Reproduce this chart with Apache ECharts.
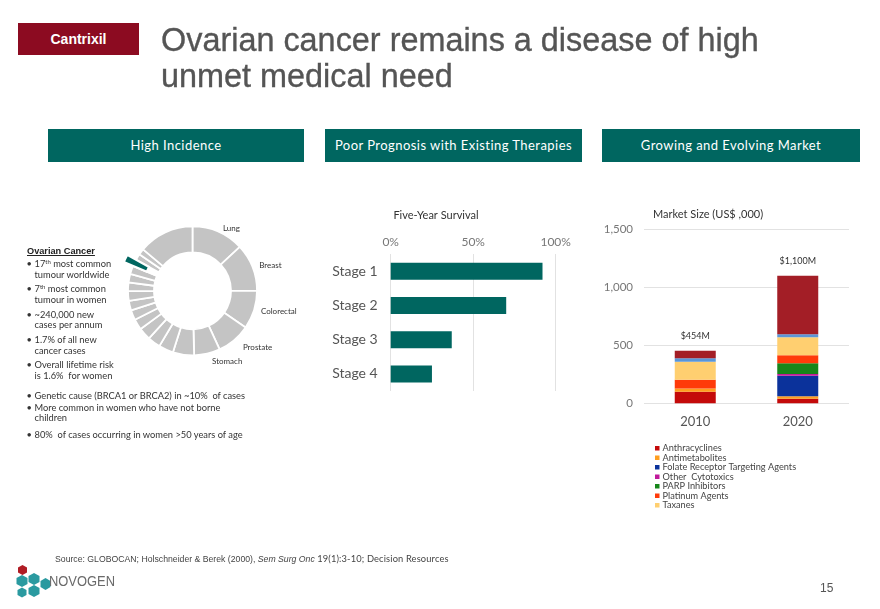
<!DOCTYPE html>
<html><head><meta charset="utf-8">
<script src="https://cdn.jsdelivr.net/npm/echarts@6/dist/echarts.min.js"></script>
<style>
html,body{margin:0;padding:0;width:880px;height:609px;overflow:hidden;background:#fff;}
#chart{position:absolute;left:0;top:0;width:880px;height:609px;}
.abs{position:absolute;white-space:nowrap;}
.tag{left:18px;top:23px;width:121px;height:32px;background:#8c0b21;color:#fff;font:bold 14px "Liberation Sans",Arial,sans-serif;text-align:center;line-height:32px;}
.title{left:161px;top:21.5px;font:32.4px/36.7px "Liberation Sans",Arial,sans-serif;color:#555;-webkit-text-stroke:0.35px #555;}
.hbox{top:129px;height:33px;background:#006660;color:#fff;font:13px/33px Lato,sans-serif;text-align:center;letter-spacing:0.45px;}
.body{font:9.3px/10.7px Lato,sans-serif;color:#333;}
.bul{position:absolute;left:26.5px;white-space:nowrap;}
.bul span.b{display:inline-block;width:8px;}
.bul .ind{padding-left:8px;}
sup{font-size:6px;line-height:0;vertical-align:3px;}
.oc{left:27px;top:245.5px;font:bold 9.2px "Liberation Sans",Arial,sans-serif;color:#222;text-decoration:underline;}
.src{left:55px;top:553px;font:8.7px "Liberation Sans",Arial,sans-serif;color:#444;}
.src .l{font:9.3px Lato,sans-serif;letter-spacing:0.15px;}
.pg{left:820px;top:581px;font:12px "Liberation Sans",Arial,sans-serif;color:#555;}
.logo{left:49px;top:572px;font:15px "Liberation Sans",Arial,sans-serif;color:#6a6a6a;transform:scaleX(0.86);transform-origin:0 0;}
</style></head><body>
<div id="chart"></div>
<div class="abs tag">Cantrixil</div>
<div class="abs title">Ovarian cancer remains a disease of high<br>unmet medical need</div>
<div class="abs hbox" style="left:48px;width:256px;">High Incidence</div>
<div class="abs hbox" style="left:325px;width:257px;">Poor Prognosis with Existing Therapies</div>
<div class="abs hbox" style="left:602px;width:258px;">Growing and Evolving Market</div>

<div class="abs oc">Ovarian Cancer</div>
<div class="body">
<div class="bul" style="top:259px"><span class="b">•</span>17<sup>th</sup> most common<br><span class="ind">tumour worldwide</span></div>
<div class="bul" style="top:284px"><span class="b">•</span>7<sup>th</sup> most common<br><span class="ind">tumour in women</span></div>
<div class="bul" style="top:309.7px"><span class="b">•</span>~240,000 new<br><span class="ind">cases per annum</span></div>
<div class="bul" style="top:335px"><span class="b">•</span>1.7% of all new<br><span class="ind">cancer cases</span></div>
<div class="bul" style="top:360.4px"><span class="b">•</span>Overall lifetime risk<br><span class="ind">is 1.6% &nbsp;for women</span></div>
<div class="bul" style="top:390.6px"><span class="b">•</span>Genetic cause (BRCA1 or BRCA2) in ~10% &nbsp;of cases</div>
<div class="bul" style="top:402.6px"><span class="b">•</span>More common in women who have not borne<br><span class="ind">children</span></div>
<div class="bul" style="top:430px"><span class="b">•</span>80% &nbsp;of cases occurring in women &gt;50 years of age</div>
</div>

<div class="abs src">Source: GLOBOCAN; Holschneider &amp; Berek (2000), <i>Sem Surg Onc</i> <span class="l">19(1):3-10; Decision Resources</span></div>
<svg class="abs" style="left:0;top:560px" width="60" height="45">
  <polygon points="22.5,5 27,7.5 27,12.5 22.5,15 18,12.5 18,7.5" fill="#b01c24"/>
  <polygon points="22,15 27.5,18 27.5,24 22,27 16.5,24 16.5,18" fill="#2a9aa0"/>
  <polygon points="34,13 39.5,16 39.5,22 34,25 28.5,22 28.5,16" fill="#2a9aa0"/>
  <polygon points="45.5,18 50.5,21 50.5,27 45.5,30 40.5,27 40.5,21" fill="#2a9aa0"/>
  <polygon points="34,25 39.5,28 39.5,34 34,37 28.5,34 28.5,28" fill="#2a9aa0"/>
  <polygon points="22,27.5 26.5,30 26.5,35 22,37.5 17.5,35 17.5,30" fill="#2a9aa0"/>
</svg>
<div class="abs logo">NOVOGEN</div>
<div class="abs pg">15</div>

<script>
// ---------- Data ----------
const cancerSites = ['Lung','Breast','Colorectal','Prostate','Stomach','Liver','Cervix uteri','Oesophagus','Bladder','Non-Hodgkin lymphoma','Leukaemia','Pancreas','Kidney','Corpus uteri','Lip, oral cavity','Thyroid','Ovary','Melanoma','Gallbladder','Other'];
const incidencePct = [13.1,11.9,9.6,8.5,6.5,5.3,3.7,3.2,3.1,2.7,2.5,2.4,2.4,2.2,2.1,2.1,1.7,1.6,1.5,13.9];
const labelledSites = ['Lung','Breast','Colorectal','Prostate','Stomach'];
const highlightSite = 'Ovary';

const stages = ['Stage 1','Stage 2','Stage 3','Stage 4'];
const fiveYearSurvival = [92,70,37,25];

const years = ['2010','2020'];
const anthracyclines = [100,40];
const antimetabolites = [28,20];
const folateReceptor = [0,178];
const otherCytotoxics = [0,15];
const parpInhibitors = [0,92];
const platinumAgents = [75,70];
const taxanes = [155,155];
const unlistedBlue = [30,25];
const unlistedMaroon = [66,505];
const totalLabels = ['$454M','$1,100M'];
const legendNames = ['Anthracyclines','Antimetabolites','Folate Receptor Targeting Agents','Other  Cytotoxics','PARP Inhibitors','Platinum Agents','Taxanes'];

// ---------- Build ----------
const FONT = 'Lato, sans-serif';
const TEAL = '#006660';

const ringData = cancerSites.map((n,i)=>{
  const show = labelledSites.includes(n);
  const isHi = n===highlightSite;
  return {
    name:n, value:incidencePct[i],
    itemStyle:{color: isHi ? '#ffffff' : '#c4c4c4'},
    label:{show:show},
    labelLine:{show:false, length: n==='Prostate'?9:(n==='Stomach'?8:4), length2:0}
  };
});
const hiData = cancerSites.map((n,i)=>({
  name:n, value:incidencePct[i],
  itemStyle: n===highlightSite ? {color:TEAL, borderColor:'#fff', borderWidth:2.2} : {color:'rgba(0,0,0,0)', borderWidth:0}
}));

const stackSeries = [
  [legendNames[0], anthracyclines, '#c40a0a'],
  [legendNames[1], antimetabolites, '#ff9e1f'],
  [legendNames[2], folateReceptor, '#0b329b'],
  [legendNames[3], otherCytotoxics, '#c0199a'],
  [legendNames[4], parpInhibitors, '#16861a'],
  [legendNames[5], platinumAgents, '#ff3a0a'],
  [legendNames[6], taxanes, '#ffcf70'],
  ['Unlisted (blue)', unlistedBlue, '#5a96d8'],
  ['Unlisted (maroon)', unlistedMaroon, '#a31e26']
].map(([name,data,color],k,arr)=>({
  name, type:'bar', stack:'mkt', xAxisIndex:1, yAxisIndex:1, barWidth:41,
  data, itemStyle:{color}, emphasis:{disabled:true},
  label: k===arr.length-1 ? {show:true, position:'top', distance:10, fontFamily:FONT, fontSize:9, color:'#333',
    formatter:p=>totalLabels[p.dataIndex]} : {show:false}
}));

const chart = echarts.init(document.getElementById('chart'), null, {renderer:'canvas'});
chart.setOption({
  animation:false,
  title:[
    {text:'Five-Year Survival', left:431, top:205, textAlign:'center', textStyle:{fontFamily:FONT,fontSize:11,fontWeight:'normal',color:'#333'}},
    {text:'Market Size (US$ ,000)', left:648, top:204, textStyle:{fontFamily:FONT,fontSize:11,fontWeight:'normal',color:'#333'}}
  ],
  legend:{
    data:legendNames,
    orient:'vertical', left:655, top:443.5, padding:0, itemWidth:4.5, itemHeight:4.5, itemGap:0, icon:'rect',
    textStyle:{fontFamily:FONT,fontSize:9.2,color:'#444',lineHeight:9.5, padding:[0,0,0,-2]}, selectedMode:false
  },
  grid:[
    {left:390.7, top:254, width:165, height:137},
    {left:644, right:31, top:229.3, height:174}
  ],
  xAxis:[
    {type:'value', gridIndex:0, position:'top', min:0, max:100, interval:50,
     axisLabel:{formatter:'{value}%', fontFamily:FONT, fontSize:12, color:'#777', margin:6},
     axisLine:{show:false}, axisTick:{show:false}, splitLine:{lineStyle:{color:'#e2e2e2'}}},
    {type:'category', gridIndex:1, data:years,
     axisLabel:{fontFamily:FONT, fontSize:13, color:'#555', margin:12},
     axisLine:{show:false}, axisTick:{show:false}}
  ],
  yAxis:[
    {type:'category', gridIndex:0, data:stages, inverse:true,
     axisLabel:{fontFamily:FONT, fontSize:14, color:'#555', margin:13},
     axisLine:{show:false}, axisTick:{show:false}},
    {type:'value', gridIndex:1, min:0, max:1500, interval:500,
     axisLabel:{fontFamily:FONT, fontSize:11.5, color:'#777', margin:11, formatter:v=>v.toLocaleString('en-US')},
     axisLine:{show:false}, axisTick:{show:false}, splitLine:{lineStyle:{color:'#e2e2e2'}}}
  ],
  series:[
    {type:'pie', center:[192.5,290.8], radius:[38.5,64.5], startAngle:90, clockwise:true,
     avoidLabelOverlap:false, silent:true,
     itemStyle:{borderColor:'#fff', borderWidth:1.8},
     label:{position:'outside', fontFamily:FONT, fontSize:8, color:'#333', distanceToLabelLine:3},
     data:ringData},
    {type:'pie', center:[192.5,290.8], radius:[49.5,74.5], startAngle:90, clockwise:true,
     silent:true, label:{show:false}, labelLine:{show:false}, data:hiData, z:3},
    {type:'bar', xAxisIndex:0, yAxisIndex:0, data:fiveYearSurvival, barWidth:17,
     itemStyle:{color:TEAL}, silent:true},
    ...stackSeries
  ]
});
</script>
</body></html>
